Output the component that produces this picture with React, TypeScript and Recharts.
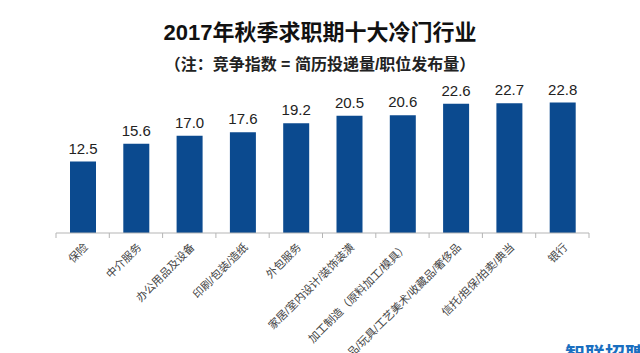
import React from 'react'
import { BarChart, Bar, XAxis, YAxis, LabelList } from 'recharts'

const categories = [
  '保险',
  '中介服务',
  '办公用品及设备',
  '印刷/包装/造纸',
  '外包服务',
  '家居/室内设计/装饰装潢',
  '加工制造（原料加工/模具）',
  '礼品/玩具/工艺美术/收藏品/奢侈品',
  '信托/担保/拍卖/典当',
  '银行',
]
const indexValues = [12.5, 15.6, 17.0, 17.6, 19.2, 20.5, 20.6, 22.6, 22.7, 22.8]

const data = categories.map((name, i) => ({ name, value: indexValues[i] }))

const W = 640
const H = 353
const MARGIN = { top: 90, right: 51, left: 56, bottom: 0 }
const band = (W - MARGIN.left - MARGIN.right) / categories.length
const FONT = '"Liberation Sans", "Noto Sans CJK SC", sans-serif'

function CategoryTick(props: any) {
  const { x, y, payload, index } = props
  const left = x - band / 2
  return (
    <g>
      <line x1={left} y1={y - 8} x2={left} y2={y - 3} stroke="#b5b5b5" />
      {index === categories.length - 1 && (
        <line x1={x + band / 2} y1={y - 8} x2={x + band / 2} y2={y - 3} stroke="#b5b5b5" />
      )}
      <text
        x={x + 6}
        y={y + 7}
        transform={`rotate(-45, ${x + 6}, ${y + 7})`}
        textAnchor="end"
        fontSize={11}
        fill="#444"
        fontFamily={FONT}
      >
        {payload.value}
      </text>
    </g>
  )
}

export default function App() {
  return (
    <div style={{ position: 'absolute', left: 0, top: 0, width: W, height: H, background: '#fff', fontFamily: FONT }}>
      <div style={{ position: 'absolute', top: 14, width: W, textAlign: 'center', fontSize: 22, fontWeight: 'bold', color: '#111' }}>
        2017年秋季求职期十大冷门行业
      </div>
      <div style={{ position: 'absolute', top: 51, width: W, textAlign: 'center', fontSize: 16, fontWeight: 'bold', color: '#222' }}>
        （注：竞争指数 = 简历投递量/职位发布量）
      </div>
      <BarChart width={W} height={H} data={data} margin={MARGIN} barCategoryGap="25%">
        <XAxis
          dataKey="name"
          interval={0}
          height={120}
          tick={<CategoryTick />}
          tickLine={false}
          axisLine={{ stroke: '#b5b5b5' }}
        />
        <YAxis hide domain={[0, 25]} />
        <Bar dataKey="value" fill="#0B4A8F" barSize={26} isAnimationActive={false}>
          <LabelList
            dataKey="value"
            position="top"
            offset={8}
            formatter={(v: any) => Number(v).toFixed(1)}
            style={{ fontSize: 15, fill: '#222', fontFamily: FONT }}
          />
        </Bar>
      </BarChart>
      <div style={{ position: 'absolute', left: 565, top: 339, fontSize: 20, fontWeight: 'bold', color: '#1a6fc0', whiteSpace: 'nowrap' }}>
        智联招聘
      </div>
    </div>
  )
}
